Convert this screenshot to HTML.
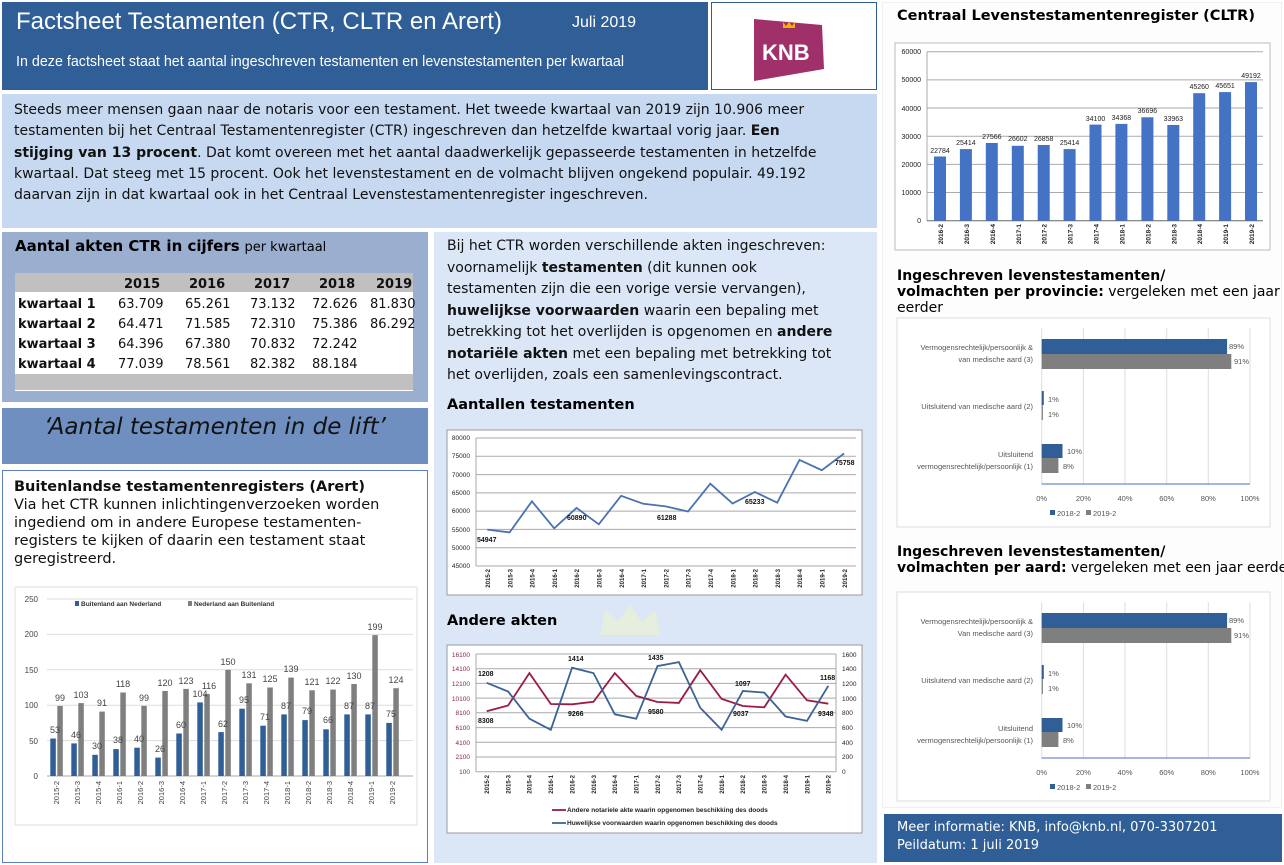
<!DOCTYPE html>
<html><head><meta charset="utf-8">
<style>
*{margin:0;padding:0;box-sizing:border-box}
body{width:1284px;height:865px;position:relative;background:#fff;font-family:"DejaVu Sans",Verdana,sans-serif;overflow:hidden}
.a{position:absolute}
.t{font-family:"Liberation Sans",Arial,sans-serif}
</style></head><body>
<div class="a" style="left:0;top:0;width:1284px;height:865px;background:#fff"></div>
<!-- header -->
<div class="a" style="left:2px;top:2px;width:706px;height:88px;background:#2f5f96"></div>
<div class="a t" style="left:16px;top:8px;color:#fff;font-size:24px;white-space:nowrap">Factsheet Testamenten (CTR, CLTR en Arert)</div>
<div class="a t" style="left:572px;top:14px;color:#fff;font-size:16px">Juli 2019</div>
<div class="a t" style="left:16px;top:54px;color:#fff;font-size:14.3px;white-space:nowrap">In deze factsheet staat het aantal ingeschreven testamenten en levenstestamenten per kwartaal</div>
<div class="a" style="left:711px;top:2px;width:166px;height:88px;background:#fff;border:1px solid #2f5f96"></div>
<svg class="a" style="left:750px;top:15px" width="80" height="70"><polygon points="4,4 72,10 74,54 4,66" fill="#a0306a"/><text x="12" y="45" font-family="Liberation Sans" font-weight="bold" font-size="22" fill="#fff">KNB</text><path d="M33,7 l3,4 l3,-4 l3,4 l3,-4 v6 h-12z" fill="#f0b400"/></svg>
<!-- intro -->
<div class="a" style="left:2px;top:94px;width:875px;height:134px;background:#c6d9f1"></div>
<div class="a" style="left:14px;top:100px;width:860px;font-size:14px;line-height:21.3px;color:#111;white-space:nowrap">Steeds meer mensen gaan naar de notaris voor een testament. Het tweede kwartaal van 2019 zijn 10.906 meer<br>testamenten bij het Centraal Testamentenregister (CTR) ingeschreven dan hetzelfde kwartaal vorig jaar. <b>Een</b><br><b>stijging van 13 procent</b>. Dat komt overeen met het aantal daadwerkelijk gepasseerde testamenten in hetzelfde<br>kwartaal. Dat steeg met 15 procent. Ook het levenstestament en de volmacht blijven ongekend populair. 49.192<br>daarvan zijn in dat kwartaal ook in het Centraal Levenstestamentenregister ingeschreven.</div>
<!-- table box -->
<div class="a" style="left:2px;top:232px;width:426px;height:170px;background:#9aaed0"></div>
<div class="a" style="left:15px;top:237px;font-size:15px;white-space:nowrap"><b>Aantal akten CTR in cijfers</b> <span style="font-size:13px">per kwartaal</span></div>
<div class="a" style="left:15px;top:273px;width:398px;height:118px;background:#fff"></div>
<div class="a" style="left:15px;top:273px;width:398px;height:19px;background:#c0c0c0"></div>
<div class="a" style="left:15px;top:374px;width:398px;height:16px;background:#c0c0c0"></div>
<div class="a" style="left:0;top:275px;font-size:13px;line-height:20px;color:#111">
<div style="position:absolute;left:18px;top:0;width:400px;white-space:nowrap">
<div style="position:relative;height:20px;font-weight:bold"><span style="position:absolute;left:106px">2015</span><span style="position:absolute;left:171px">2016</span><span style="position:absolute;left:236px">2017</span><span style="position:absolute;left:301px">2018</span><span style="position:absolute;left:358px">2019</span></div>
<div style="position:relative;height:20px"><b>kwartaal 1</b><span style="position:absolute;left:100px">63.709</span><span style="position:absolute;left:167px">65.261</span><span style="position:absolute;left:232px">73.132</span><span style="position:absolute;left:294px">72.626</span><span style="position:absolute;left:352px">81.830</span></div>
<div style="position:relative;height:20px"><b>kwartaal 2</b><span style="position:absolute;left:100px">64.471</span><span style="position:absolute;left:167px">71.585</span><span style="position:absolute;left:232px">72.310</span><span style="position:absolute;left:294px">75.386</span><span style="position:absolute;left:352px">86.292</span></div>
<div style="position:relative;height:20px"><b>kwartaal 3</b><span style="position:absolute;left:100px">64.396</span><span style="position:absolute;left:167px">67.380</span><span style="position:absolute;left:232px">70.832</span><span style="position:absolute;left:294px">72.242</span></div>
<div style="position:relative;height:20px"><b>kwartaal 4</b><span style="position:absolute;left:100px">77.039</span><span style="position:absolute;left:167px">78.561</span><span style="position:absolute;left:232px">82.382</span><span style="position:absolute;left:294px">88.184</span></div>
</div></div>
<!-- quote -->
<div class="a" style="left:2px;top:408px;width:426px;height:56px;background:#6f8fc0"></div>
<div class="a" style="left:2px;top:414px;width:426px;text-align:center;font-size:23px;font-style:italic;color:#111">‘Aantal testamenten in de lift’</div>
<!-- arert -->
<div class="a" style="left:2px;top:470px;width:426px;height:393px;background:#fff;border:1px solid #5b7fbf"></div>
<div class="a" style="left:14px;top:478px;font-size:14.5px;line-height:18px;color:#111;white-space:nowrap"><b>Buitenlandse testamentenregisters (Arert)</b><br>Via het CTR kunnen inlichtingenverzoeken worden<br>ingediend om in andere Europese testamenten-<br>registers te kijken of daarin een testament staat<br>geregistreerd.</div>
<!-- middle -->
<div class="a" style="left:434px;top:232px;width:443px;height:631px;background:#dbe6f6"></div>
<svg class="a" style="left:590px;top:600px" width="80" height="40"><path d="M10,35 L15,10 L28,22 L40,5 L52,22 L65,10 L70,35z" fill="#e9f0d8" opacity="0.8"/></svg>
<div class="a" style="left:447px;top:236px;font-size:14px;line-height:21.5px;color:#111;white-space:nowrap">Bij het CTR worden verschillende akten ingeschreven:<br>voornamelijk <b>testamenten</b> (dit kunnen ook<br>testamenten zijn die een vorige versie vervangen),<br><b>huwelijkse voorwaarden</b> waarin een bepaling met<br>betrekking tot het overlijden is opgenomen en <b>andere</b><br><b>notariële akten</b> met een bepaling met betrekking tot<br>het overlijden, zoals een samenlevingscontract.</div>
<div class="a" style="left:447px;top:397px;font-size:14.5px;font-weight:bold">Aantallen testamenten</div>
<div class="a" style="left:447px;top:613px;font-size:14.5px;font-weight:bold">Andere akten</div>
<!-- right -->
<div class="a" style="left:882px;top:2px;width:400px;height:806px;background:#fdfdfe;border:1px solid #eef0f4"></div>
<div class="a" style="left:897px;top:8px;font-size:14.5px;font-weight:bold;white-space:nowrap">Centraal Levenstestamentenregister (CLTR)</div>
<div class="a" style="left:897px;top:268px;font-size:14px;line-height:16px;white-space:nowrap"><b>Ingeschreven levenstestamenten/</b><br><b>volmachten per provincie:</b> vergeleken met een jaar<br>eerder</div>
<div class="a" style="left:897px;top:544px;font-size:14px;line-height:16px;white-space:nowrap"><b>Ingeschreven levenstestamenten/</b><br><b>volmachten per aard:</b> vergeleken met een jaar eerder</div>
<div class="a" style="left:884px;top:814px;width:398px;height:48px;background:#2f5f96"></div>
<div class="a" style="left:897px;top:819px;font-size:13px;line-height:18px;color:#fff;white-space:nowrap">Meer informatie: KNB, info@knb.nl, 070-3307201<br>Peildatum: 1 juli 2019</div>

<svg class="a" style="left:0;top:0" width="1284" height="865" font-family="Liberation Sans, sans-serif">
<!-- CLTR chart -->
<rect x="895" y="43" width="375" height="207" fill="#fff" stroke="#bbb"/>
<g stroke="#aaa" stroke-width="1"><line x1="927" x2="1263" y1="192.5" y2="192.5"/><line x1="927" x2="1263" y1="164.4" y2="164.4"/><line x1="927" x2="1263" y1="136.2" y2="136.2"/><line x1="927" x2="1263" y1="108" y2="108"/><line x1="927" x2="1263" y1="79.9" y2="79.9"/><line x1="927" x2="1263" y1="51.7" y2="51.7"/><line x1="927" x2="927" y1="51.7" y2="220.7"/><line x1="927" x2="1263" y1="220.7" y2="220.7" stroke="#666"/></g>
<g font-size="7" fill="#222" text-anchor="end"><text x="921" y="223">0</text><text x="921" y="195">10000</text><text x="921" y="167">20000</text><text x="921" y="139">30000</text><text x="921" y="111">40000</text><text x="921" y="82">50000</text><text x="921" y="54">60000</text></g>
<g fill="#4472c4"><rect x="934" y="156.5" width="12" height="64.2"/><rect x="959.9" y="149.1" width="12" height="71.6"/><rect x="985.8" y="143" width="12" height="77.7"/><rect x="1011.8" y="145.8" width="12" height="74.9"/><rect x="1037.7" y="145" width="12" height="75.7"/><rect x="1063.6" y="149.1" width="12" height="71.6"/><rect x="1089.5" y="124.6" width="12" height="96.1"/><rect x="1115.4" y="123.9" width="12" height="96.8"/><rect x="1141.4" y="117.3" width="12" height="103.4"/><rect x="1167.3" y="125" width="12" height="95.7"/><rect x="1193.2" y="93.2" width="12" height="127.5"/><rect x="1219.1" y="92.1" width="12" height="128.6"/><rect x="1245" y="82.1" width="12" height="138.6"/></g>
<g font-size="7" fill="#222" text-anchor="middle"><text x="940" y="153">22784</text><text x="965.9" y="145">25414</text><text x="991.8" y="139">27566</text><text x="1017.8" y="141">26602</text><text x="1043.7" y="141">26858</text><text x="1069.6" y="145">25414</text><text x="1095.5" y="121">34100</text><text x="1121.4" y="120">34368</text><text x="1147.4" y="113">36696</text><text x="1173.3" y="121">33963</text><text x="1199.2" y="89">45260</text><text x="1225.1" y="88">45651</text><text x="1251" y="78">49192</text></g>
<g font-size="6.5" font-weight="bold" fill="#222" text-anchor="end"><text transform="translate(943,224) rotate(-90)">2016-2</text><text transform="translate(968.9,224) rotate(-90)">2016-3</text><text transform="translate(994.8,224) rotate(-90)">2016-4</text><text transform="translate(1020.8,224) rotate(-90)">2017-1</text><text transform="translate(1046.7,224) rotate(-90)">2017-2</text><text transform="translate(1072.6,224) rotate(-90)">2017-3</text><text transform="translate(1098.5,224) rotate(-90)">2017-4</text><text transform="translate(1124.4,224) rotate(-90)">2018-1</text><text transform="translate(1150.4,224) rotate(-90)">2018-2</text><text transform="translate(1176.3,224) rotate(-90)">2018-3</text><text transform="translate(1202.2,224) rotate(-90)">2018-4</text><text transform="translate(1228.1,224) rotate(-90)">2019-1</text><text transform="translate(1254,224) rotate(-90)">2019-2</text></g>

<!-- Provincie chart -->
<g id="hb">
<rect x="897" y="318" width="373" height="209" fill="#fff" stroke="#ddd"/>
<g stroke="#ddd"><line x1="1083.4" x2="1083.4" y1="328" y2="484"/><line x1="1125" x2="1125" y1="328" y2="484"/><line x1="1166.7" x2="1166.7" y1="328" y2="484"/><line x1="1208.3" x2="1208.3" y1="328" y2="484"/><line x1="1250" x2="1250" y1="328" y2="484"/><line x1="1041.7" x2="1041.7" y1="328" y2="484"/></g>
<line x1="1041.7" x2="1250" y1="484" y2="484" stroke="#4472c4"/>
<rect x="1041.7" y="339" width="185.4" height="15" fill="#2f5f96"/><rect x="1041.7" y="354" width="189.6" height="15" fill="#7f7f7f"/>
<rect x="1041.7" y="391" width="2.1" height="14" fill="#2f5f96"/><rect x="1041.7" y="405" width="1.2" height="15" fill="#7f7f7f"/>
<rect x="1041.7" y="444" width="20.8" height="14" fill="#2f5f96"/><rect x="1041.7" y="458" width="16.7" height="15" fill="#7f7f7f"/>
<g font-size="7.5" fill="#555"><text x="1229" y="349">89%</text><text x="1234" y="364">91%</text><text x="1048" y="402">1%</text><text x="1048" y="417">1%</text><text x="1067" y="454">10%</text><text x="1063" y="469">8%</text></g>
<g font-size="7.5" fill="#555" text-anchor="middle"><text x="1041.7" y="501">0%</text><text x="1083.4" y="501">20%</text><text x="1125" y="501">40%</text><text x="1166.7" y="501">60%</text><text x="1208.3" y="501">80%</text><text x="1250" y="501">100%</text></g>
<rect x="1050" y="510" width="5" height="5" fill="#2f5f96"/><text x="1057" y="516" font-size="7.5" fill="#555">2018-2</text><rect x="1086" y="510" width="5" height="5" fill="#7f7f7f"/><text x="1093" y="516" font-size="7.5" fill="#555">2019-2</text>
</g>
<g font-size="7.5" fill="#555" text-anchor="end"><text x="1033" y="350">Vermogensrechtelijk/persoonlijk &amp;</text><text x="1033" y="362">van medische aard (3)</text><text x="1033" y="409">Uitsluitend van medische aard (2)</text><text x="1033" y="457">Uitsluitend</text><text x="1033" y="469">vermogensrechtelijk/persoonlijk (1)</text></g>
<use href="#hb" y="274"/>
<g font-size="7.5" fill="#555" text-anchor="end"><text x="1033" y="624">Vermogensrechtelijk/persoonlijk &amp;</text><text x="1033" y="636">Van medische aard (3)</text><text x="1033" y="683">Uitsluitend van medische aard (2)</text><text x="1033" y="731">Uitsluitend</text><text x="1033" y="743">vermogensrechtelijk/persoonlijk (1)</text></g>

<!-- Aantallen chart -->
<rect x="447" y="430" width="415" height="165" fill="#fff" stroke="#999"/>
<g stroke="#aaa"><line x1="476" x2="856" y1="438" y2="438"/><line x1="476" x2="856" y1="456.3" y2="456.3"/><line x1="476" x2="856" y1="474.6" y2="474.6"/><line x1="476" x2="856" y1="492.9" y2="492.9"/><line x1="476" x2="856" y1="511.1" y2="511.1"/><line x1="476" x2="856" y1="529.4" y2="529.4"/><line x1="476" x2="856" y1="547.7" y2="547.7"/><line x1="476" x2="856" y1="566" y2="566"/><line x1="476" x2="476" y1="438" y2="566"/></g>
<g font-size="6.5" fill="#222" text-anchor="end"><text x="470" y="440">80000</text><text x="470" y="458">75000</text><text x="470" y="477">70000</text><text x="470" y="495">65000</text><text x="470" y="513">60000</text><text x="470" y="532">55000</text><text x="470" y="550">50000</text><text x="470" y="568">45000</text></g>
<polyline fill="none" stroke="#4a72b0" stroke-width="1.8" points="487.3,529.6 509.6,532.4 531.9,501.3 554.2,528.3 576.5,507.9 598.8,524.3 621.1,495.8 643.4,503.8 665.7,506.4 688,511.5 710.3,483.7 732.6,503.5 754.9,492 777.2,502.7 799.5,459.9 821.8,470.2 844.1,453.5"/>
<g font-size="7" font-weight="bold" fill="#111"><text x="477" y="542">54947</text><text x="567" y="520">60890</text><text x="657" y="520">61288</text><text x="745" y="504">65233</text><text x="835" y="465">75758</text></g>
<g font-size="6" font-weight="bold" fill="#222" text-anchor="end"><text transform="translate(490,569) rotate(-90)">2015-2</text><text transform="translate(512.3,569) rotate(-90)">2015-3</text><text transform="translate(534.6,569) rotate(-90)">2015-4</text><text transform="translate(556.9,569) rotate(-90)">2016-1</text><text transform="translate(579.2,569) rotate(-90)">2016-2</text><text transform="translate(601.5,569) rotate(-90)">2016-3</text><text transform="translate(623.8,569) rotate(-90)">2016-4</text><text transform="translate(646.1,569) rotate(-90)">2017-1</text><text transform="translate(668.4,569) rotate(-90)">2017-2</text><text transform="translate(690.7,569) rotate(-90)">2017-3</text><text transform="translate(713,569) rotate(-90)">2017-4</text><text transform="translate(735.3,569) rotate(-90)">2018-1</text><text transform="translate(757.6,569) rotate(-90)">2018-2</text><text transform="translate(779.9,569) rotate(-90)">2018-3</text><text transform="translate(802.2,569) rotate(-90)">2018-4</text><text transform="translate(824.5,569) rotate(-90)">2019-1</text><text transform="translate(846.8,569) rotate(-90)">2019-2</text></g>

<!-- Andere akten chart -->
<rect x="447" y="645" width="415" height="188" fill="#fff" stroke="#999"/>
<g stroke="#aaa"><line x1="476" x2="836" y1="654" y2="654"/><line x1="476" x2="836" y1="668.7" y2="668.7"/><line x1="476" x2="836" y1="683.4" y2="683.4"/><line x1="476" x2="836" y1="698.1" y2="698.1"/><line x1="476" x2="836" y1="712.8" y2="712.8"/><line x1="476" x2="836" y1="727.6" y2="727.6"/><line x1="476" x2="836" y1="742.3" y2="742.3"/><line x1="476" x2="836" y1="757" y2="757"/><line x1="476" x2="836" y1="771.7" y2="771.7"/><line x1="476" x2="476" y1="654" y2="772"/><line x1="836" x2="836" y1="654" y2="772"/></g>
<g font-size="6.5" fill="#8b2252" text-anchor="end"><text x="470" y="657">16100</text><text x="470" y="671">14100</text><text x="470" y="686">12100</text><text x="470" y="701">10100</text><text x="470" y="715">8100</text><text x="470" y="730">6100</text><text x="470" y="745">4100</text><text x="470" y="759">2100</text><text x="470" y="774">100</text></g>
<g font-size="6.5" fill="#222"><text x="842" y="657">1600</text><text x="842" y="671">1400</text><text x="842" y="686">1200</text><text x="842" y="701">1000</text><text x="842" y="715">800</text><text x="842" y="730">600</text><text x="842" y="745">400</text><text x="842" y="759">200</text><text x="842" y="774">0</text></g>
<polyline fill="none" stroke="#9b1b45" stroke-width="1.8" points="486.7,711.3 508.1,705.5 529.4,673.1 550.8,704 572.1,704.3 593.5,701.8 614.8,673.1 636.2,695.9 657.5,702 678.9,702.9 700.2,670.2 721.6,698.9 742.9,706 764.3,707.3 785.6,674.6 807,700.3 828.3,703.7"/>
<polyline fill="none" stroke="#3b6496" stroke-width="1.8" points="486.7,682.8 508.1,691.5 529.4,718.7 550.8,729.8 572.1,667.7 593.5,673.1 614.8,714.3 636.2,718.7 657.5,666.1 678.9,662.1 700.2,707.7 721.6,729.8 742.9,691 764.3,692.6 785.6,716.5 807,720.9 828.3,685.8"/>
<g font-size="7" font-weight="bold" fill="#111"><text x="478" y="676">1208</text><text x="478" y="723">8308</text><text x="568" y="661">1414</text><text x="568" y="716">9266</text><text x="648" y="660">1435</text><text x="648" y="714">9580</text><text x="735" y="686">1097</text><text x="733" y="716">9037</text><text x="820" y="680">1168</text><text x="818" y="716">9348</text></g>
<g font-size="6" font-weight="bold" fill="#222" text-anchor="end"><text transform="translate(489,775) rotate(-90)">2015-2</text><text transform="translate(510.4,775) rotate(-90)">2015-3</text><text transform="translate(531.7,775) rotate(-90)">2015-4</text><text transform="translate(553.1,775) rotate(-90)">2016-1</text><text transform="translate(574.4,775) rotate(-90)">2016-2</text><text transform="translate(595.8,775) rotate(-90)">2016-3</text><text transform="translate(617.1,775) rotate(-90)">2016-4</text><text transform="translate(638.5,775) rotate(-90)">2017-1</text><text transform="translate(659.8,775) rotate(-90)">2017-2</text><text transform="translate(681.2,775) rotate(-90)">2017-3</text><text transform="translate(702.5,775) rotate(-90)">2017-4</text><text transform="translate(723.9,775) rotate(-90)">2018-1</text><text transform="translate(745.2,775) rotate(-90)">2018-2</text><text transform="translate(766.6,775) rotate(-90)">2018-3</text><text transform="translate(787.9,775) rotate(-90)">2018-4</text><text transform="translate(809.3,775) rotate(-90)">2019-1</text><text transform="translate(830.6,775) rotate(-90)">2019-2</text></g>
<line x1="552" x2="566" y1="810" y2="810" stroke="#9b1b45" stroke-width="1.8"/><text x="567" y="812" font-size="6.5" font-weight="bold" fill="#222">Andere notariele akte waarin opgenomen beschikking des doods</text>
<line x1="552" x2="566" y1="823" y2="823" stroke="#3b6496" stroke-width="1.8"/><text x="567" y="825" font-size="6.5" font-weight="bold" fill="#222">Huwelijkse voorwaarden waarin opgenomen beschikking des doods</text>

<!-- Arert chart -->
<rect x="15" y="587" width="402" height="238" fill="#fff" stroke="#ddd"/>
<g stroke="#ddd"><line x1="47" x2="413" y1="599" y2="599"/><line x1="47" x2="413" y1="634.4" y2="634.4"/><line x1="47" x2="413" y1="669.8" y2="669.8"/><line x1="47" x2="413" y1="705.2" y2="705.2"/><line x1="47" x2="413" y1="740.6" y2="740.6"/></g>
<line x1="47" x2="413" y1="776" y2="776" stroke="#aaa"/>
<g font-size="8" fill="#444" text-anchor="end"><text x="38" y="602">250</text><text x="38" y="637">200</text><text x="38" y="673">150</text><text x="38" y="708">100</text><text x="38" y="744">50</text><text x="38" y="779">0</text></g>
<rect x="75" y="601" width="4" height="5" fill="#2f5f96"/><text x="81" y="606" font-size="6.5" font-weight="bold" fill="#333">Buitenland aan Nederland</text>
<rect x="188" y="601" width="4" height="5" fill="#7f7f7f"/><text x="194" y="606" font-size="6.5" font-weight="bold" fill="#333">Nederland aan Buitenland</text>
<g fill="#2f5f96"><rect x="50.3" y="738.5" width="5.5" height="37.5"/><rect x="71.3" y="743.4" width="5.5" height="32.6"/><rect x="92.3" y="754.8" width="5.5" height="21.2"/><rect x="113.3" y="749.1" width="5.5" height="26.9"/><rect x="134.3" y="747.7" width="5.5" height="28.3"/><rect x="155.3" y="757.6" width="5.5" height="18.4"/><rect x="176.3" y="733.5" width="5.5" height="42.5"/><rect x="197.3" y="702.4" width="5.5" height="73.6"/><rect x="218.3" y="732.1" width="5.5" height="43.9"/><rect x="239.3" y="708.7" width="5.5" height="67.3"/><rect x="260.3" y="725.7" width="5.5" height="50.3"/><rect x="281.3" y="714.4" width="5.5" height="61.6"/><rect x="302.3" y="720.1" width="5.5" height="55.9"/><rect x="323.3" y="729.3" width="5.5" height="46.7"/><rect x="344.3" y="714.4" width="5.5" height="61.6"/><rect x="365.3" y="714.4" width="5.5" height="61.6"/><rect x="386.3" y="722.9" width="5.5" height="53.1"/></g>
<g fill="#7f7f7f"><rect x="57.3" y="705.9" width="5.5" height="70.1"/><rect x="78.3" y="703.1" width="5.5" height="72.9"/><rect x="99.3" y="711.6" width="5.5" height="64.4"/><rect x="120.3" y="692.5" width="5.5" height="83.5"/><rect x="141.3" y="705.9" width="5.5" height="70.1"/><rect x="162.3" y="691" width="5.5" height="85"/><rect x="183.3" y="688.9" width="5.5" height="87.1"/><rect x="204.3" y="693.9" width="5.5" height="82.1"/><rect x="225.3" y="669.8" width="5.5" height="106.2"/><rect x="246.3" y="683.3" width="5.5" height="92.7"/><rect x="267.3" y="687.5" width="5.5" height="88.5"/><rect x="288.3" y="677.6" width="5.5" height="98.4"/><rect x="309.3" y="690.3" width="5.5" height="85.7"/><rect x="330.3" y="689.6" width="5.5" height="86.4"/><rect x="351.3" y="684" width="5.5" height="92"/><rect x="372.3" y="635.1" width="5.5" height="140.9"/><rect x="393.3" y="688.2" width="5.5" height="87.8"/></g>
<g font-size="9" fill="#444" text-anchor="middle"><text x="55" y="733">53</text><text x="76" y="738">46</text><text x="97" y="749">30</text><text x="118" y="743">38</text><text x="139" y="742">40</text><text x="160" y="752">26</text><text x="181" y="728">60</text><text x="200" y="697">104</text><text x="223" y="727">62</text><text x="244" y="703">95</text><text x="265" y="720">71</text><text x="286" y="709">87</text><text x="307" y="714">79</text><text x="328" y="723">66</text><text x="349" y="709">87</text><text x="370" y="709">87</text><text x="391" y="717">75</text></g>
<g font-size="9" fill="#444" text-anchor="middle"><text x="60" y="701">99</text><text x="81" y="698">103</text><text x="102" y="706">91</text><text x="123" y="687">118</text><text x="144" y="701">99</text><text x="165" y="686">120</text><text x="186" y="684">123</text><text x="209" y="689">116</text><text x="228" y="665">150</text><text x="249" y="678">131</text><text x="270" y="682">125</text><text x="291" y="672">139</text><text x="312" y="685">121</text><text x="333" y="684">122</text><text x="354" y="679">130</text><text x="375" y="630">199</text><text x="396" y="683">124</text></g>
<g font-size="7.5" fill="#444" text-anchor="end"><text transform="translate(59,781) rotate(-90)">2015-2</text><text transform="translate(80,781) rotate(-90)">2015-3</text><text transform="translate(101,781) rotate(-90)">2015-4</text><text transform="translate(122,781) rotate(-90)">2016-1</text><text transform="translate(143,781) rotate(-90)">2016-2</text><text transform="translate(164,781) rotate(-90)">2016-3</text><text transform="translate(185,781) rotate(-90)">2016-4</text><text transform="translate(206,781) rotate(-90)">2017-1</text><text transform="translate(227,781) rotate(-90)">2017-2</text><text transform="translate(248,781) rotate(-90)">2017-3</text><text transform="translate(269,781) rotate(-90)">2017-4</text><text transform="translate(290,781) rotate(-90)">2018-1</text><text transform="translate(311,781) rotate(-90)">2018-2</text><text transform="translate(332,781) rotate(-90)">2018-3</text><text transform="translate(353,781) rotate(-90)">2018-4</text><text transform="translate(374,781) rotate(-90)">2019-1</text><text transform="translate(395,781) rotate(-90)">2019-2</text></g>
</svg>
</body></html>
